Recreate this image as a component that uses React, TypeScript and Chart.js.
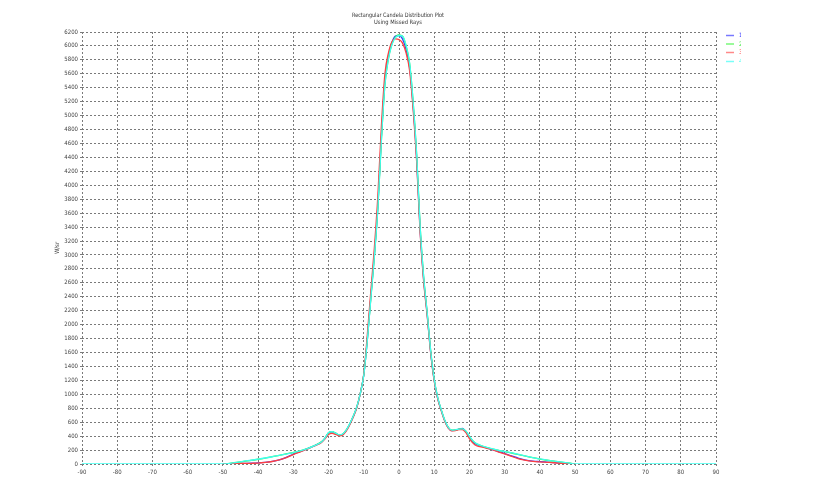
import React, { useEffect, useRef } from "react";
import { Chart, registerables } from "chart.js";

Chart.register(...registerables);

const titleLines = ["Rectangular Candela Distribution Plot", "Using Missed Rays"];
const yTitle = "W/sr";
const seriesLabels = ["1", "2", "3", "4"];
const seriesColors = ["#3838ff", "#38e838", "#ff4040", "#40fff0"];
const legendColors = ["#7878ff", "#78f878", "#ff8888", "#78fff8"];

const angles = [
  -50, -48, -46, -44, -42, -40, -38, -36, -34, -32, -30, -28, -26, -24, -22,
  -21, -20, -19, -18, -17, -16, -15, -14, -13, -12, -11, -10, -9, -8, -7, -6,
  -5, -4, -3, -2, -1, 0, 1, 2, 3, 4, 5, 6, 7, 8, 9, 10, 11, 12, 13, 14, 15,
  16, 17, 18, 19, 20, 21, 22, 24, 26, 28, 30, 32, 34, 36, 38, 40, 42, 44, 46,
  48, 50,
];

const blue = [
  0, 4, 7, 9, 11, 15, 24, 38, 60, 95, 140, 180, 220, 262, 315,
  370, 445, 462, 440, 415, 425, 480, 570, 680, 810, 1010, 1280, 1780, 2400, 3000, 3700,
  4700, 5500, 5850, 6050, 6140, 6150, 6100, 5950, 5700, 5150, 4400, 3350, 2650, 2150, 1600, 1200, 940, 770, 620, 520, 480,
  485, 500, 510, 465, 385, 320, 280, 245, 215, 182, 150, 115, 82, 56, 42, 34, 27, 20, 12,
  6, 0,
];

const green = [
  0, 10, 22, 38, 52, 68, 85, 105, 125, 145, 165, 190, 222, 265, 318,
  372, 450, 465, 442, 415, 428, 485, 575, 685, 815, 1010, 1280, 1780, 2380, 2980, 3680,
  4650, 5450, 5820, 6030, 6130, 6160, 6140, 6000, 5750, 5200, 4450, 3400, 2680, 2170, 1620, 1210, 950, 775, 625, 525, 485,
  488, 500, 505, 470, 395, 330, 290, 250, 222, 198, 178, 158, 135, 112, 90, 70, 54, 40, 28,
  15, 0,
];

const red = [
  0, 3, 6, 8, 10, 13, 22, 36, 58, 92, 135, 175, 215, 258, 310,
  360, 425, 440, 425, 405, 415, 470, 560, 670, 805, 1010, 1290, 1850, 2480, 3100, 3850,
  4850, 5600, 5900, 6060, 6100, 6090, 6040, 5900, 5650, 5100, 4350, 3320, 2620, 2130, 1590, 1190, 935, 765, 615, 515, 475,
  480, 495, 495, 450, 365, 300, 262, 240, 212, 178, 145, 108, 75, 52, 38, 30, 24, 18, 11,
  5, 0,
];

const cyanAngles = [
  -90, -50, -48, -46, -44, -42, -40, -38, -36, -34, -32, -30, -28, -26, -24, -22,
  -21, -20, -19, -18, -17, -16, -15, -14, -13, -12, -11, -10, -9, -8, -7, -6,
  -5, -4, -3, -2, -1, 0, 1, 2, 3, 4, 5, 6, 7, 8, 9, 10, 11, 12, 13, 14, 15,
  16, 17, 18, 19, 20, 21, 22, 24, 26, 28, 30, 32, 34, 36, 38, 40, 42, 44, 46,
  48, 50, 90,
];

const cyan = [
  0, 0, 10, 24, 40, 54, 70, 86, 104, 124, 143, 163, 188, 220, 263, 316,
  370, 452, 466, 444, 418, 430, 486, 576, 686, 816, 1010, 1275, 1770, 2370, 2970, 3670,
  4640, 5440, 5810, 6020, 6120, 6150, 6140, 6010, 5760, 5210, 4460, 3410, 2690, 2175, 1625, 1215, 952, 778, 628, 527, 487,
  490, 502, 505, 472, 398, 332, 292, 252, 224, 200, 180, 160, 137, 113, 92, 72, 55, 41, 29,
  16, 0, 0,
];

const xTicks = { min: -90, max: 90, step: 10 };
const yTicks = { min: 0, max: 6200, step: 200 };

const FONT = "'Liberation Sans Narrow', 'Arial Narrow', 'DejaVu Sans Condensed', 'Liberation Sans', Arial, sans-serif";

function pts(xs: number[], ys: number[]) {
  return xs.map((x, i) => ({ x, y: ys[i] }));
}

const overlayPlugin = {
  id: "overlay",
  afterDraw(chart: any) {
    const ctx = chart.ctx as CanvasRenderingContext2D;
    const area = chart.chartArea;
    ctx.save();
    ctx.fillStyle = "#333";
    ctx.font = `6px ${FONT}`;
    ctx.textAlign = "center";
    ctx.textBaseline = "middle";
    const cx = (area.left + area.right) / 2;
    ctx.fillText(titleLines[0], cx - 1, 15, 92);
    ctx.fillText(titleLines[1], cx - 1, 22.5, 48);

    const ys = [35.5, 44, 52.5, 61.5];
    ys.forEach((y, i) => {
      ctx.strokeStyle = legendColors[i];
      ctx.lineWidth = 1.5;
      ctx.beginPath();
      ctx.moveTo(726, y);
      ctx.lineTo(734, y);
      ctx.stroke();
    });
    ctx.beginPath();
    ctx.rect(736, 28, 5, 40);
    ctx.clip();
    ctx.textAlign = "left";
    ctx.font = `6px ${FONT}`;
    ys.forEach((y, i) => {
      ctx.fillStyle = seriesColors[i];
      ctx.fillText(seriesLabels[i], 739, y);
    });
    ctx.restore();
  },
};

export default function App() {
  const ref = useRef<HTMLCanvasElement | null>(null);

  useEffect(() => {
    if (!ref.current) return;
    const mk = (label: string, xs: number[], ys: number[], color: string) => ({
      label,
      data: pts(xs, ys),
      borderColor: color,
      backgroundColor: color,
      borderWidth: 1.3,
      pointRadius: 0,
      fill: false,
      cubicInterpolationMode: "monotone" as const,
    });
    const chart = new Chart(ref.current, {
      type: "line",
      data: {
        datasets: [
          mk(seriesLabels[3], cyanAngles, cyan, seriesColors[3]),
          mk(seriesLabels[2], angles, red, seriesColors[2]),
          mk(seriesLabels[1], angles, green, seriesColors[1]),
          mk(seriesLabels[0], angles, blue, seriesColors[0]),
        ],
      },
      options: {
        responsive: false,
        animation: false,
        layout: { padding: { left: 0, right: 100, top: 32, bottom: 0 } },
        plugins: { legend: { display: false }, tooltip: { enabled: false }, title: { display: false } },
        scales: {
          x: {
            type: "linear",
            min: xTicks.min,
            max: xTicks.max,
            ticks: {
              stepSize: xTicks.step,
              color: "#444",
              font: { size: 6, family: FONT },
              padding: 3,
              maxRotation: 0,
              autoSkip: false,
              callback: (v: any) => String(v),
            },
            grid: { color: "#7a7a7a", lineWidth: 1, tickLength: 2, drawOnChartArea: true },
            border: { display: false, dash: [2, 2] },
            afterFit: (s: any) => {
              s.height = 32;
            },
          },
          y: {
            type: "linear",
            min: yTicks.min,
            max: yTicks.max,
            ticks: {
              stepSize: yTicks.step,
              color: "#444",
              font: { size: 6, family: FONT },
              padding: 2,
              autoSkip: false,
              callback: (v: any) => String(v),
            },
            title: {
              display: true,
              text: yTitle,
              color: "#444",
              font: { size: 6, family: FONT },
              padding: { top: 54, bottom: 0 },
            },
            grid: { color: "#7a7a7a", lineWidth: 1, tickLength: 2 },
            border: { display: false, dash: [2, 2] },
            afterFit: (s: any) => {
              s.width = 82;
            },
          },
        },
      },
      plugins: [overlayPlugin],
    });
    return () => chart.destroy();
  }, []);

  return (
    <div style={{ position: "absolute", left: 0, top: 0, width: 816, height: 496, background: "#fff" }}>
      <canvas ref={ref} width={816} height={496} style={{ display: "block" }} />
    </div>
  );
}
